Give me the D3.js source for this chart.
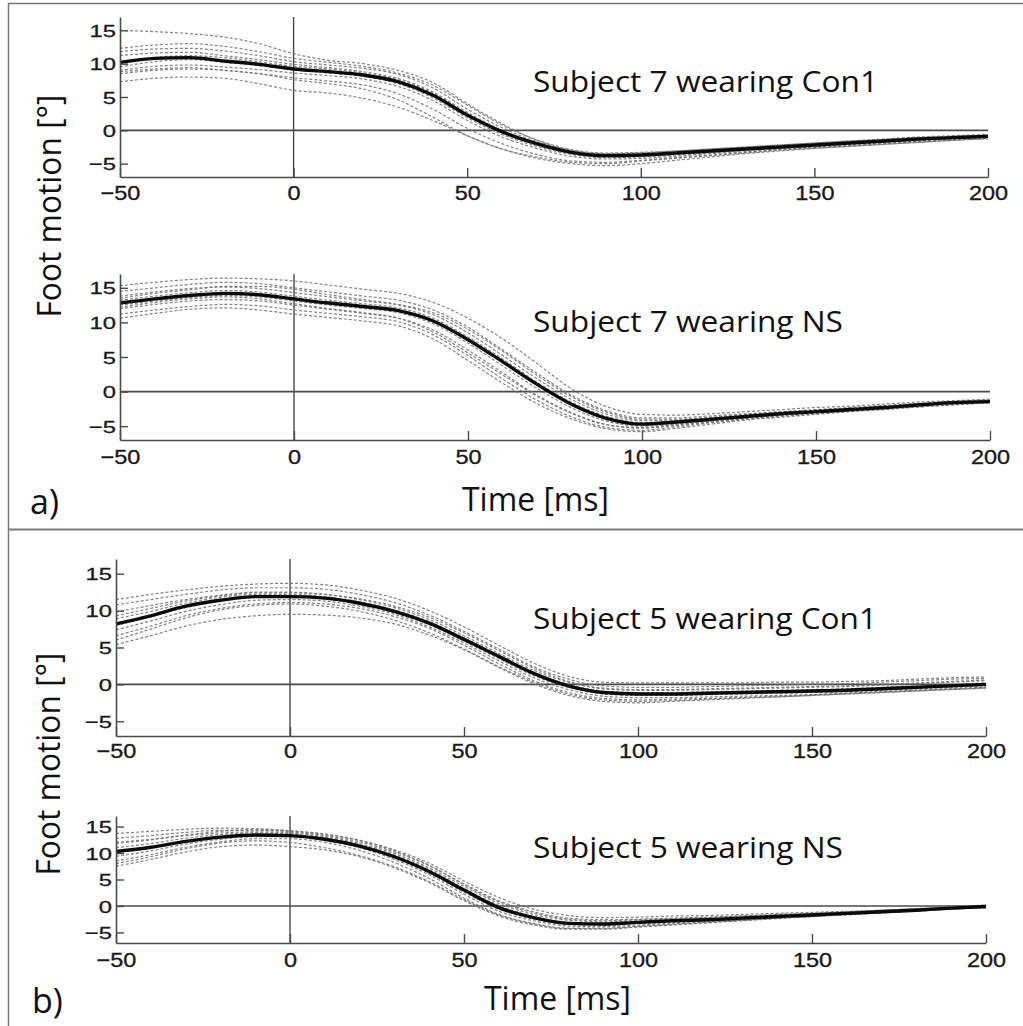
<!DOCTYPE html>
<html>
<head>
<meta charset="utf-8">
<script src="https://cdn.jsdelivr.net/npm/d3@7"></script>
<style>
  html, body { margin: 0; padding: 0; background: #fff; }
  svg { display: block; }
</style>
</head>
<body>
<svg id="fig" width="1023" height="1026"></svg>
<script>
// Sample times (ms) shared by every curve
const timeMs = [-50, -40, -30, -20, -10, 0, 10, 20, 30, 40, 50, 60, 70, 80, 90, 100, 110, 120, 130, 140, 150, 160, 170, 180, 190, 200];

const xTicks = [-50, 0, 50, 100, 150, 200];
const yTicks = [-5, 0, 5, 10, 15];
const yRange = [-7, 17];

const panelTitles = ["Subject 7 wearing Con1", "Subject 7 wearing NS", "Subject 5 wearing Con1", "Subject 5 wearing NS"];

// Subject 7, Con1: mean foot motion (deg) and individual trials
const s7Con1Mean = [10.2, 10.8, 10.9, 10.4, 9.9, 9.2, 8.8, 8.3, 7.3, 5.3, 2.3, -0.2, -2.0, -3.3, -3.8, -3.7, -3.4, -3.1, -2.8, -2.5, -2.2, -1.9, -1.6, -1.3, -1.1, -0.9];
const s7Con1Trials = [
  [15.0, 14.8, 14.5, 14.0, 13.0, 11.5, 10.5, 10.0, 9.0, 7.2, 4.0, 1.0, -1.5, -3.0, -3.5, -3.4, -3.1, -2.8, -2.5, -2.2, -1.9, -1.6, -1.3, -1.0, -0.8, -0.6],
  [12.3, 12.8, 13.0, 12.6, 11.8, 10.8, 10.2, 9.6, 8.6, 6.8, 3.8, 0.8, -1.4, -2.9, -3.4, -3.3, -3.1, -2.8, -2.5, -2.2, -1.9, -1.6, -1.4, -1.1, -0.9, -0.7],
  [11.8, 12.2, 12.3, 11.9, 11.2, 10.3, 9.8, 9.3, 8.4, 6.4, 3.2, 0.4, -1.7, -3.1, -3.6, -3.6, -3.3, -3.0, -2.7, -2.4, -2.1, -1.8, -1.5, -1.2, -1.0, -0.8],
  [11.2, 11.6, 11.7, 11.2, 10.6, 9.9, 9.4, 8.8, 7.8, 5.8, 2.7, 0.0, -1.9, -3.2, -3.7, -3.7, -3.4, -3.1, -2.8, -2.5, -2.2, -1.9, -1.6, -1.3, -1.1, -0.9],
  [10.0, 10.9, 11.2, 10.9, 10.3, 9.6, 9.2, 8.6, 7.6, 5.6, 2.4, -0.3, -2.2, -3.5, -4.0, -3.9, -3.6, -3.3, -3.0, -2.7, -2.4, -2.0, -1.7, -1.4, -1.2, -1.0],
  [9.5, 10.3, 10.6, 10.2, 9.7, 9.1, 8.6, 8.1, 7.0, 4.9, 1.9, -0.6, -2.4, -3.6, -4.1, -4.0, -3.7, -3.4, -3.0, -2.7, -2.4, -2.1, -1.8, -1.5, -1.2, -1.0],
  [9.0, 9.6, 9.8, 9.5, 9.1, 8.6, 8.2, 7.7, 6.6, 4.5, 1.5, -1.0, -2.7, -3.9, -4.3, -4.2, -3.9, -3.5, -3.2, -2.8, -2.5, -2.2, -1.9, -1.6, -1.3, -1.1],
  [8.8, 9.2, 9.4, 9.0, 8.5, 7.9, 7.4, 6.8, 5.5, 3.2, 0.3, -2.0, -3.6, -4.6, -4.8, -4.5, -4.1, -3.7, -3.3, -2.9, -2.6, -2.3, -2.0, -1.7, -1.4, -1.2],
  [7.3, 7.8, 8.0, 7.8, 7.0, 6.0, 5.6, 4.8, 3.5, 1.5, -0.8, -2.8, -4.2, -5.0, -5.3, -5.0, -4.5, -4.0, -3.5, -3.1, -2.7, -2.4, -2.1, -1.8, -1.5, -1.3],
  [8.5, 9.0, 9.2, 9.0, 8.5, 7.6, 7.0, 6.2, 4.6, 2.0, -0.8, -2.8, -4.0, -4.8, -5.0, -4.6, -4.2, -3.8, -3.4, -3.0, -2.7, -2.4, -2.1, -1.8, -1.5, -1.2]
];

// Subject 7, NS
const s7NSMean = [12.8, 13.4, 13.9, 14.2, 14.0, 13.4, 12.8, 12.3, 11.7, 10.2, 7.5, 4.3, 1.0, -1.9, -3.9, -4.7, -4.4, -4.0, -3.6, -3.2, -2.9, -2.6, -2.3, -1.9, -1.6, -1.45];
const s7NSTrials = [
  [15.3, 15.8, 16.2, 16.4, 16.3, 16.0, 15.4, 14.8, 14.2, 12.9, 10.6, 7.6, 4.0, 0.3, -2.2, -3.3, -3.4, -3.2, -2.9, -2.6, -2.3, -2.1, -1.8, -1.5, -1.3, -1.1],
  [14.5, 15.0, 15.5, 15.8, 15.6, 15.0, 14.4, 13.8, 13.2, 11.8, 9.3, 6.0, 2.6, -0.6, -2.8, -3.8, -3.8, -3.5, -3.2, -2.9, -2.6, -2.3, -2.0, -1.7, -1.4, -1.2],
  [13.8, 14.4, 14.9, 15.1, 14.9, 14.3, 13.7, 13.1, 12.5, 11.1, 8.5, 5.2, 1.8, -1.2, -3.3, -4.2, -4.1, -3.8, -3.4, -3.0, -2.7, -2.4, -2.1, -1.8, -1.5, -1.3],
  [13.2, 13.8, 14.3, 14.6, 14.4, 13.8, 13.2, 12.7, 12.1, 10.6, 7.9, 4.7, 1.3, -1.6, -3.6, -4.5, -4.3, -3.9, -3.5, -3.1, -2.8, -2.5, -2.2, -1.9, -1.6, -1.4],
  [12.5, 13.1, 13.6, 13.9, 13.7, 13.1, 12.5, 12.0, 11.4, 9.8, 7.0, 3.7, 0.4, -2.4, -4.3, -5.0, -4.7, -4.2, -3.8, -3.4, -3.0, -2.7, -2.4, -2.0, -1.7, -1.5],
  [12.0, 12.6, 13.1, 13.3, 13.1, 12.5, 11.9, 11.3, 10.6, 8.9, 6.0, 2.7, -0.6, -3.1, -4.8, -5.3, -4.9, -4.4, -3.9, -3.5, -3.1, -2.8, -2.4, -2.1, -1.8, -1.5],
  [11.2, 11.8, 12.3, 12.6, 12.4, 11.8, 11.3, 10.8, 10.1, 8.2, 5.2, 1.8, -1.3, -3.7, -5.2, -5.6, -5.1, -4.5, -4.0, -3.6, -3.2, -2.8, -2.5, -2.2, -1.9, -1.6],
  [10.6, 11.3, 11.9, 12.1, 11.8, 11.2, 10.7, 10.2, 9.5, 7.6, 4.5, 1.2, -1.8, -4.0, -5.4, -5.8, -5.3, -4.7, -4.1, -3.7, -3.3, -2.9, -2.6, -2.2, -1.9, -1.6],
  [13.5, 14.2, 14.7, 15.2, 15.2, 14.8, 14.0, 13.3, 12.6, 11.4, 9.0, 5.8, 2.3, -0.8, -3.0, -4.0, -4.0, -3.7, -3.3, -3.0, -2.7, -2.4, -2.1, -1.8, -1.5, -1.3],
  [12.2, 12.9, 13.4, 13.7, 13.4, 12.7, 12.0, 11.4, 10.6, 8.6, 5.6, 2.4, -0.7, -3.2, -4.8, -5.2, -4.8, -4.3, -3.8, -3.4, -3.0, -2.7, -2.4, -2.0, -1.7, -1.5]
];

// Subject 5, Con1
const s5Con1Mean = [8.2, 9.3, 10.6, 11.4, 11.9, 11.9, 11.7, 11.0, 9.9, 8.3, 6.1, 3.8, 1.5, -0.2, -1.1, -1.3, -1.3, -1.2, -1.1, -1.0, -0.9, -0.8, -0.6, -0.4, -0.2, 0.0];
const s5Con1Trials = [
  [11.5, 12.2, 12.8, 13.3, 13.6, 13.7, 13.5, 12.8, 11.7, 10.0, 7.8, 5.3, 2.9, 1.1, 0.3, 0.2, 0.2, 0.2, 0.2, 0.3, 0.3, 0.4, 0.5, 0.7, 0.9, 1.0],
  [10.8, 11.5, 12.2, 12.8, 13.1, 13.1, 12.9, 12.2, 11.1, 9.4, 7.2, 4.8, 2.4, 0.7, -0.2, -0.4, -0.4, -0.3, -0.2, -0.1, 0.0, 0.1, 0.3, 0.5, 0.7, 0.8],
  [9.8, 10.7, 11.5, 12.1, 12.5, 12.5, 12.2, 11.5, 10.4, 8.8, 6.6, 4.2, 1.9, 0.3, -0.6, -0.8, -0.8, -0.7, -0.6, -0.5, -0.4, -0.3, -0.1, 0.1, 0.3, 0.5],
  [8.9, 9.9, 11.0, 11.8, 12.2, 12.2, 11.9, 11.2, 10.1, 8.5, 6.3, 3.9, 1.6, 0.0, -0.9, -1.1, -1.1, -1.0, -0.9, -0.8, -0.7, -0.6, -0.4, -0.2, 0.0, 0.2],
  [8.0, 9.2, 10.4, 11.3, 11.8, 11.9, 11.6, 10.9, 9.7, 8.1, 5.9, 3.5, 1.2, -0.4, -1.3, -1.5, -1.5, -1.4, -1.3, -1.2, -1.1, -1.0, -0.8, -0.6, -0.4, -0.2],
  [7.4, 8.6, 9.9, 10.8, 11.4, 11.5, 11.3, 10.6, 9.5, 7.8, 5.6, 3.2, 0.9, -0.7, -1.6, -1.8, -1.8, -1.7, -1.6, -1.5, -1.4, -1.2, -1.0, -0.8, -0.6, -0.4],
  [6.6, 7.9, 9.3, 10.3, 10.9, 11.1, 10.9, 10.3, 9.2, 7.6, 5.3, 2.8, 0.5, -1.1, -1.9, -2.1, -2.0, -1.9, -1.8, -1.7, -1.5, -1.3, -1.1, -0.9, -0.7, -0.5],
  [5.4, 6.6, 7.9, 8.8, 9.3, 9.5, 9.4, 9.0, 8.2, 6.7, 4.7, 2.3, 0.1, -1.5, -2.3, -2.5, -2.3, -2.1, -1.9, -1.7, -1.5, -1.3, -1.1, -0.9, -0.7, -0.5],
  [9.3, 10.3, 11.3, 12.0, 12.4, 12.4, 12.2, 11.6, 10.6, 9.1, 7.0, 4.6, 2.2, 0.4, -0.5, -0.7, -0.7, -0.6, -0.5, -0.4, -0.3, -0.2, 0.0, 0.2, 0.4, 0.6],
  [6.0, 7.5, 9.0, 10.1, 10.7, 10.9, 10.6, 9.9, 8.7, 7.0, 4.8, 2.4, 0.3, -1.3, -2.1, -2.3, -2.2, -2.0, -1.8, -1.6, -1.4, -1.2, -1.0, -0.8, -0.6, -0.4]
];

// Subject 5, NS
const s5NSMean = [10.3, 11.1, 12.2, 13.0, 13.4, 13.3, 12.6, 11.3, 9.3, 6.5, 3.0, -0.3, -2.2, -3.3, -3.4, -3.1, -2.8, -2.6, -2.3, -2.0, -1.7, -1.4, -1.1, -0.8, -0.4, -0.1];
const s5NSTrials = [
  [13.7, 14.1, 14.5, 14.7, 14.6, 14.2, 13.5, 12.4, 10.6, 8.1, 4.7, 1.6, -0.6, -1.8, -2.2, -2.1, -1.9, -1.8, -1.6, -1.4, -1.2, -1.0, -0.8, -0.5, -0.2, 0.2],
  [12.8, 13.3, 13.9, 14.3, 14.3, 14.0, 13.3, 12.1, 10.2, 7.6, 4.2, 1.0, -1.1, -2.3, -2.6, -2.5, -2.3, -2.1, -1.9, -1.7, -1.4, -1.2, -0.9, -0.6, -0.3, 0.1],
  [12.0, 12.6, 13.3, 13.8, 14.0, 13.8, 13.1, 11.8, 9.9, 7.2, 3.7, 0.5, -1.6, -2.7, -3.0, -2.8, -2.6, -2.4, -2.1, -1.8, -1.5, -1.3, -1.0, -0.7, -0.3, 0.0],
  [11.0, 11.8, 12.8, 13.5, 13.8, 13.6, 12.9, 11.6, 9.6, 6.9, 3.3, 0.1, -2.0, -3.1, -3.3, -3.1, -2.8, -2.6, -2.3, -2.0, -1.7, -1.4, -1.1, -0.8, -0.4, -0.1],
  [10.2, 11.1, 12.2, 13.1, 13.5, 13.4, 12.6, 11.2, 9.1, 6.2, 2.6, -0.6, -2.5, -3.5, -3.6, -3.3, -3.0, -2.7, -2.4, -2.1, -1.8, -1.5, -1.2, -0.9, -0.5, -0.2],
  [9.4, 10.4, 11.7, 12.6, 13.1, 13.1, 12.4, 11.0, 8.8, 5.9, 2.2, -1.0, -2.8, -3.8, -3.9, -3.6, -3.2, -2.9, -2.6, -2.2, -1.9, -1.6, -1.2, -0.9, -0.5, -0.2],
  [8.5, 9.7, 11.1, 12.1, 12.7, 12.7, 12.0, 10.5, 8.2, 5.2, 1.5, -1.6, -3.3, -4.2, -4.2, -3.8, -3.4, -3.0, -2.7, -2.3, -2.0, -1.6, -1.3, -0.9, -0.6, -0.3],
  [7.5, 8.8, 10.2, 11.2, 11.5, 11.2, 10.6, 9.3, 7.2, 4.4, 1.0, -1.9, -3.6, -4.4, -4.4, -4.0, -3.6, -3.2, -2.8, -2.4, -2.0, -1.7, -1.3, -1.0, -0.6, -0.3],
  [8.0, 9.3, 10.8, 11.9, 12.3, 12.0, 11.0, 9.5, 7.4, 4.6, 1.2, -1.7, -3.4, -4.3, -4.3, -3.9, -3.5, -3.1, -2.7, -2.3, -2.0, -1.6, -1.3, -0.9, -0.6, -0.3],
  [11.8, 12.5, 13.4, 14.1, 14.4, 14.2, 13.6, 12.4, 10.4, 7.7, 4.0, 0.8, -1.3, -2.5, -2.8, -2.6, -2.4, -2.2, -1.9, -1.6, -1.4, -1.1, -0.8, -0.5, -0.2, 0.1]
];

// Plot boxes for the four panels (pixels)
const layout = [
  { x0: 120, x1: 988, top: 17,  bottom: 177, labelDy: 22.5, title: { x: 533, y: 92,  w: 345 }, mean: s7Con1Mean, trials: s7Con1Trials },
  { x0: 120, x1: 990, top: 274, bottom: 440, labelDy: 24,   title: { x: 533, y: 332, w: 310 }, mean: s7NSMean,   trials: s7NSTrials },
  { x0: 116, x1: 986, top: 559, bottom: 736, labelDy: 21.5, title: { x: 533, y: 629, w: 344 }, mean: s5Con1Mean, trials: s5Con1Trials },
  { x0: 116, x1: 986, top: 816, bottom: 943, labelDy: 24,   title: { x: 533, y: 858, w: 310 }, mean: s5NSMean,   trials: s5NSTrials }
];

const svg = d3.select("#fig");
const textFont = "'Open Sans', 'Noto Sans', sans-serif";
const tickFont = "'Liberation Sans', Arial, sans-serif";
const axisGrey = "#4a4a4a";

// Outer frame and the divider between parts a) and b)
svg.append("rect")
  .attr("x", 8.5).attr("y", 3.5).attr("width", 1020).attr("height", 1030)
  .attr("fill", "none").attr("stroke", "#777").attr("stroke-width", 1.5);
svg.append("line")
  .attr("x1", 8).attr("x2", 1023).attr("y1", 529.5).attr("y2", 529.5)
  .attr("stroke", "#777").attr("stroke-width", 2);

layout.forEach((p, i) => {
  const x = d3.scaleLinear().domain([xTicks[0], xTicks[xTicks.length - 1]]).range([p.x0, p.x1]);
  const y = d3.scaleLinear().domain(yRange).range([p.bottom, p.top]);
  const g = svg.append("g");

  const line = d3.line()
    .x((d, k) => x(timeMs[k]))
    .y(d => y(d))
    .curve(d3.curveMonotoneX);

  // reference lines at zero angle and at touchdown (t = 0)
  g.append("line")
    .attr("x1", x(0)).attr("x2", x(0)).attr("y1", p.top).attr("y2", p.bottom)
    .attr("stroke", axisGrey).attr("stroke-width", 1.4);
  g.append("line")
    .attr("x1", p.x0).attr("x2", p.x1).attr("y1", y(0)).attr("y2", y(0))
    .attr("stroke", axisGrey).attr("stroke-width", 1.6);

  // individual trials (dashed)
  g.selectAll("path.trial").data(p.trials).join("path")
    .attr("class", "trial")
    .attr("d", line)
    .attr("fill", "none")
    .attr("stroke", "#6e6e6e")
    .attr("stroke-width", 1.2)
    .attr("stroke-opacity", 0.85)
    .attr("stroke-dasharray", "3,2");

  // mean curve
  g.append("path")
    .attr("d", line(p.mean))
    .attr("fill", "none")
    .attr("stroke", "#0a0a0a")
    .attr("stroke-width", 3.4)
    .attr("stroke-linejoin", "round");

  // x axis with inward ticks
  const xAxis = g.append("g")
    .attr("transform", `translate(0,${p.bottom})`)
    .call(d3.axisBottom(x).tickValues(xTicks).tickSizeInner(-9).tickSizeOuter(0).tickPadding(0).tickFormat(d3.format("d")));
  xAxis.select(".domain").attr("stroke", axisGrey).attr("stroke-width", 1.6);
  xAxis.selectAll(".tick line").attr("stroke", axisGrey).attr("stroke-width", 1.4);
  xAxis.selectAll(".tick text")
    .attr("y", 0).attr("dy", null)
    .attr("transform", `translate(0,${p.labelDy}) scale(1.12,1)`)
    .attr("font-family", tickFont).attr("font-size", 21).attr("fill", "#1a1a1a")
    .attr("stroke", "#1a1a1a").attr("stroke-width", 0.35);

  // y axis with inward ticks
  const yAxis = g.append("g")
    .attr("transform", `translate(${p.x0},0)`)
    .call(d3.axisLeft(y).tickValues(yTicks).tickSizeInner(-8).tickSizeOuter(0).tickPadding(0).tickFormat(d3.format("d")));
  yAxis.select(".domain").attr("stroke", axisGrey).attr("stroke-width", 1.6);
  yAxis.selectAll(".tick line").attr("stroke", axisGrey).attr("stroke-width", 1.4);
  yAxis.selectAll(".tick text")
    .attr("x", 0).attr("dy", "0.36em")
    .attr("transform", "translate(-4,0) scale(1.4,1)")
    .attr("font-family", tickFont).attr("font-size", 17).attr("fill", "#1a1a1a")
    .attr("stroke", "#1a1a1a").attr("stroke-width", 0.3);
  g.selectAll(".domain").attr("fill", "none");

  // panel caption
  g.append("text")
    .attr("x", p.title.x).attr("y", p.title.y)
    .attr("textLength", p.title.w).attr("lengthAdjust", "spacingAndGlyphs")
    .attr("font-family", textFont).attr("font-size", 29).attr("fill", "#111")
    .text(panelTitles[i]);
});

// Shared axis titles and part labels
const partLabels = [
  { tag: "a)", tagX: 30, tagY: 514, timeX: 462, timeY: 511, footX: 61, footY: 206 },
  { tag: "b)", tagX: 32, tagY: 1013, timeX: 484, timeY: 1010, footX: 60, footY: 764 }
];
partLabels.forEach(l => {
  svg.append("text")
    .attr("x", l.tagX).attr("y", l.tagY)
    .attr("font-family", textFont).attr("font-size", 34).attr("fill", "#111")
    .text(l.tag);
  svg.append("text")
    .attr("x", l.timeX).attr("y", l.timeY)
    .attr("textLength", 147).attr("lengthAdjust", "spacingAndGlyphs")
    .attr("font-family", textFont).attr("font-size", 32).attr("fill", "#111")
    .text("Time [ms]");
  svg.append("text")
    .attr("transform", `translate(${l.footX},${l.footY}) rotate(-90)`)
    .attr("text-anchor", "middle")
    .attr("textLength", 223).attr("lengthAdjust", "spacingAndGlyphs")
    .attr("font-family", textFont).attr("font-size", 32).attr("fill", "#111")
    .text("Foot motion [°]");
});
</script>
</body>
</html>
